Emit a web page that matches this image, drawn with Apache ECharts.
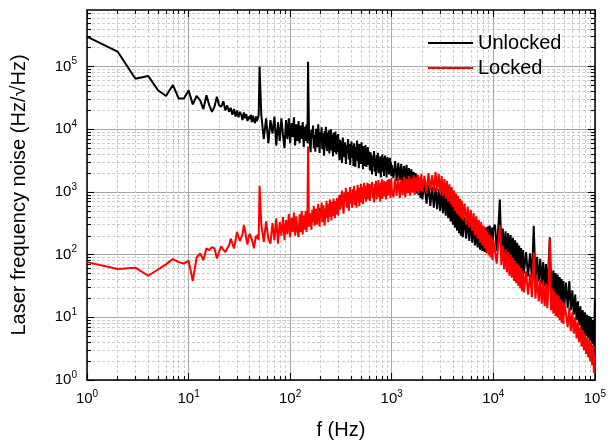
<!DOCTYPE html>
<html><head><meta charset="utf-8">
<script src="https://cdn.jsdelivr.net/npm/echarts@6/dist/echarts.min.js"></script>
<style>html,body{margin:0;padding:0;background:#fff}#c{width:609px;height:445px}</style>
</head><body><div id="c"></div>
<script>
// ---- data (frequency in Hz, noise in Hz/sqrt(Hz)) ----
const fA = [1,2,3,4,5,6,7,8,9,10,11,12,13,14,15,16,17,18,19,20,21,22,23,24,25,26,27,28,29,30,31,32,33,34,35,36,37,38,39,40,41,42,43,44,45,46,47,48,49,50];
const uA = [300000,174000,64000,71000,42000,34000,51000,31000,31000,42000,25000,34000,29000,21000,35000,24000,19000,23000,33000,24000,23000,28000,20000,24000,19000,22000,17000,21000,16000,20000,15500,19000,17000,14000,18500,15000,17500,13500,16000,14500,17000,13000,16500,14000,12500,16000,13500,15000,17000,100000];
const lA = [76,59,62,46,58,70,85,76,72,80,38,90,105,82,126,118,132,126,87,112,135,120,110,125,140,180,150,126,170,230,190,165,160,210,295,240,180,145,190,215,230,175,150,126,160,200,180,210,170,1260];

const fB = [52,55,58,61,64,67,70,73,76,79,82,85,88,91,94,97,100,103,106,109,112,115,118,121,124,127,130,133,136,139,142,145,148,150];
const uB = [17000,7000,15000,6000,14000,8500,16000,5500,13000,6500,15000,8000,5000,14000,7000,15000,6000,12500,7500,15500,5500,12000,6500,13500,6000,11500,7000,13000,5200,11000,6500,12000,6000,120000];
const lB = [300,160,340,180,150,320,170,380,150,330,200,400,170,360,210,450,190,390,230,470,200,410,240,190,440,230,500,210,420,250,500,230,430,5300];

const fC = [153,156,159,162,165,168,171,174,177,180,183,186,189,192,195,198,201,204,207,210,213,216,219,222,225,228,231,234,237,240,243,246,249,252,255,258,261,264,267,270,273,276,279,282,285,288,291,294,297,300];
const uC = [10500,6000,4300,9800,7200,11500,5000,8200,4400,10200,6800,5200,12000,7500,4200,9000,6200,10800,4800,8600,5600,3800,9400,7000,11000,5200,4500,8800,6400,9600,4100,7400,5600,10000,4600,8200,6000,3700,8800,5400,7600,4300,9200,5800,4000,8000,6600,4400,8400,5600];
const lC = [280,460,350,250,520,330,600,290,410,540,300,470,640,360,280,560,420,680,330,500,610,370,290,540,450,720,380,600,330,650,480,760,400,560,350,700,520,420,780,460,620,380,720,540,440,800,500,650,420,720];

const fD = [306,312,318,324,330,336,342,348,354,360,366,372,378,384,390,396,402,408,414,420,426,432,438,444,450,456,462,468,474,480,486,492,498,504,510,516,522,528,534,540,546,552,558,564,570,576,582,588,594,600];
const uD = [3200,6800,4600,2900,7400,5000,3600,6200,2800,5600,4200,7000,3300,5800,2700,4800,6400,3500,5400,2600,6000,3900,2500,5200,4400,6600,3100,4600,2400,5800,3700,5000,2800,6200,3400,4300,2300,5400,3800,4800,2600,5600,3300,2500,4600,3900,5200,2700,4400,3200];
const lD = [900,520,760,1050,600,450,980,700,1150,560,820,1000,500,880,1200,650,940,560,1100,760,1250,620,880,1050,560,960,1300,720,1050,600,1180,840,1350,680,980,1200,640,1100,1400,780,1000,1250,700,1150,900,1400,760,1200,1000,1350];

const fE = [610,620,630,640,650,660,670,680,690,700,710,720,730,740,750,760,770,780,790,800,810,820,830,840,850,860,870,880,890,900,910,920,930,940,950,960,970,980,990,1000];
const uE = [2200,4300,3000,1900,3800,2600,4500,2100,3400,1800,3900,2700,4200,2000,3200,2400,3700,1700,3300,2800,4000,2100,3500,1800,2900,3800,2300,3400,1700,3100,3600,2200,3300,1900,2700,3500,2000,3000,1800,2700];
const lE = [720,1300,950,1450,800,1150,680,1350,1000,1500,760,1200,900,1550,820,1250,700,1400,1050,1600,780,1300,940,1500,850,1200,1450,760,1350,1050,1550,880,1250,1600,960,1400,800,1300,1650,1100];

const fF = [1040,1080,1120,1160,1200,1240,1280,1320,1360,1400,1440,1480,1520,1560,1600,1640,1680,1720,1760,1800,1840,1880,1920,1960,2000];
const uF = [1650,3100,1500,2900,1550,2800,1300,2600,1400,2700,1200,2400,1150,2300,1200,2100,1050,2000,950,1850,900,1700,800,1600,760];
const lF = [820,1600,870,1700,800,1550,900,1750,820,1600,950,1800,870,1650,980,1850,900,1700,1020,1900,950,1750,1050,1950,1000];

const fG = [2100,2200,2300,2400,2500,2600,2700,2800,2900,3000,3100,3200,3300,3400,3500,3600,3700,3800,3900,4000,4100,4200,4300,4400,4500,4600,4700,4800,4900,5000];
const uG = [1400,650,1300,600,1200,560,1150,530,1100,500,1050,460,980,420,900,380,820,340,740,300,650,270,580,240,520,220,480,200,450,190];
const lG = [1800,950,2000,1050,1850,1000,2100,1050,1950,950,1800,860,1600,780,1500,700,1320,640,1200,570,1050,500,940,450,860,420,770,380,720,350];

const fH = [5200,5400,5600,5800,6000,6200,6400,6600,6800,7000,7200,7400,7600,7800,8000,8200,8400,8600,8800,9000,9200,9400,9600,9800,10000];
const uH = [400,180,380,165,350,155,340,140,320,130,300,120,290,115,280,110,270,105,280,110,290,105,270,110,260];
const lH = [650,300,580,270,520,240,460,200,410,180,360,155,330,140,290,125,260,108,230,98,210,90,195,82,175];

const fI = [10400,10800,11200,11600,12000,12400,12800,13200,13600,14000,14400,14800,15200,15600,16000,16400,16800,17200,17600,18000,18400,18800,19200,19600,20000];
const uI = [300,115,270,760,120,260,100,235,95,220,88,205,82,185,78,170,70,155,66,140,60,128,55,118,50];
const lI = [170,72,150,290,68,140,58,122,52,110,46,100,43,88,38,80,35,73,32,67,29,61,26,56,25];

const fJ = [21000,22000,23000,24000,25000,26000,27000,28000,29000,30000,31000,32000,33000,34000,35000,36000,37000,38000,39000,40000,41000,42000,43000,44000,45000,46000,47000,48000,49000,50000];
const uJ = [110,45,105,42,290,40,92,37,86,34,76,31,71,29,67,190,41,25,56,23,51,21,48,20,44,18,41,16,38,15];
const lJ = [54,23,49,21,110,20,44,18,40,16.5,37,15,34,14,32,180,13,29,11.5,26,10.5,23,10,22,9,19.5,8.2,18,7.8,17];

const fK = [52000,54000,56000,58000,60000,62000,64000,66000,68000,70000,72000,74000,76000,78000,80000,82000,84000,86000,88000,90000,92000,94000,96000,98000,100000];
const uK = [36,14,38,13,27,11,23,9,18,7.5,15,6.2,13,5.4,12,5,11,4.6,10.5,4.2,9.8,3.8,9,3.4,19];
const lK = [11,7,14,6,12,5.5,10,4.6,8.5,4,7,3.4,6.2,3,5.5,2.6,4.8,2.3,4.4,2,4,1.7,3.6,1.3,2.5];

const seriesNames = ['Unlocked', 'Locked'];
const xTicks = [1,10,100,1000,10000,100000];
const yTicks = [1,10,100,1000,10000,100000];

// ---- build ----
const freq = [].concat(fA,fB,fC,fD,fE,fF,fG,fH,fI,fJ,fK);
const unlocked = [].concat(uA,uB,uC,uD,uE,uF,uG,uH,uI,uJ,uK);
const locked = [].concat(lA,lB,lC,lD,lE,lF,lG,lH,lI,lJ,lK);
const pairs = (vals) => freq.map((f,i) => [f, vals[i]]);

const xMinor = [], yMinor = [];
for (let d = 0; d < 5; d++) for (let m = 2; m <= 9; m++) { xMinor.push(m*Math.pow(10,d)); yMinor.push(m*Math.pow(10,d)); }
for (let m = 2; m <= 7; m++) yMinor.push(m*1e5);

const FONT = '"Liberation Sans", Arial, Helvetica, sans-serif';
const fmt = v => '{b|10}{s|' + Math.round(Math.log10(v)) + '}';
const rich = {
  b: {fontFamily: FONT, fontSize: 15, color: '#000', lineHeight: 20},
  s: {fontFamily: FONT, fontSize: 10, color: '#000', lineHeight: 11, verticalAlign: 'top'}
};
const XMIN = 1, XMAX = 100000, YMIN = 1, YMAX = 800000;
const majorGrid = {show: true, lineStyle: {color: '#a8a8a8', width: 1}};
const minorGrid = {show: true, lineStyle: {color: '#cdcdcd', width: 1, type: [3, 2]}};
const frame = {show: true, onZero: false, lineStyle: {color: '#000', width: 1.5}};
const noLine = {show: false};
const tk = (vals, len) => ({show: true, inside: true, length: len, customValues: vals, lineStyle: {color: '#000', width: 1.1}});

function xAx(pos, ticks, len, line, label, split, extra) {
  return Object.assign({type: 'log', logBase: 10, min: XMIN, max: XMAX, position: pos,
    axisLine: line, axisTick: tk(ticks, len), axisLabel: label, splitLine: split}, extra || {});
}
function yAx(pos, ticks, len, line, label, split, extra) {
  return Object.assign({type: 'log', logBase: 10, min: YMIN, max: YMAX, position: pos,
    axisLine: line, axisTick: tk(ticks, len), axisLabel: label, splitLine: split}, extra || {});
}
const off = {show: false};

const chart = echarts.init(document.getElementById('c'), null, {renderer: 'canvas'});
chart.setOption({
  animation: false,
  backgroundColor: '#fff',
  grid: {left: 87, right: 12, top: 10, bottom: 62, containLabel: false},
  legend: {
    data: seriesNames, orient: 'vertical', left: 428, top: 32, padding: 0,
    icon: 'rect', itemWidth: 45, itemHeight: 2, itemGap: 3, selectedMode: false,
    textStyle: {fontFamily: FONT, fontSize: 20, color: '#000', lineHeight: 22}
  },
  xAxis: [
    xAx('bottom', xTicks, 7, frame,
      {show: true, customValues: xTicks, margin: 9, formatter: fmt, rich: rich}, majorGrid,
      {name: 'f (Hz)', nameLocation: 'middle', nameGap: 40,
       nameTextStyle: {fontFamily: FONT, fontSize: 20, color: '#000'}}),
    xAx('bottom', xMinor, 4, noLine, off, minorGrid),
    xAx('top', xTicks, 7, frame, off, off),
    xAx('top', xMinor, 4, noLine, off, off)
  ],
  yAxis: [
    yAx('left', yTicks, 7, frame,
      {show: true, customValues: yTicks, margin: 10, formatter: fmt, rich: rich}, majorGrid,
      {name: 'Laser frequency noise (Hz/\u221AHz)', nameLocation: 'middle', nameGap: 58,
       nameTextStyle: {fontFamily: FONT, fontSize: 20, color: '#000'}}),
    yAx('left', yMinor, 4, noLine, off, minorGrid),
    yAx('right', yTicks, 7, frame, off, off),
    yAx('right', yMinor, 4, noLine, off, off)
  ],
  series: [
    {name: seriesNames[0], type: 'line', data: pairs(unlocked), showSymbol: false, symbol: 'none',
     color: '#000', lineStyle: {color: '#000', width: 2}, z: 3},
    {name: seriesNames[1], type: 'line', data: pairs(locked), showSymbol: false, symbol: 'none',
     color: '#ff0000', lineStyle: {color: '#ff0000', width: 2}, z: 4}
  ]
});
</script>
</body></html>
